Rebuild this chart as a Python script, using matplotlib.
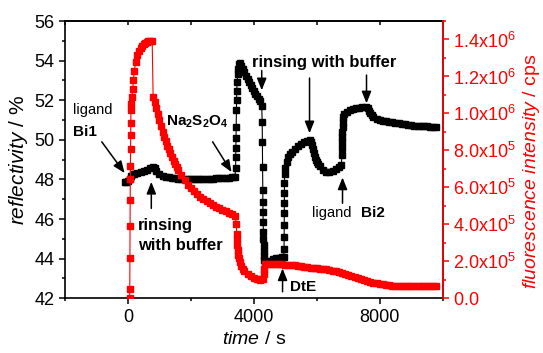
import matplotlib
matplotlib.use("Agg")
import matplotlib.pyplot as plt
from matplotlib.ticker import MultipleLocator, FuncFormatter

plt.rcParams["font.family"] = ["Liberation Sans", "DejaVu Sans"]
plt.rcParams["mathtext.fontset"] = "custom"
plt.rcParams["mathtext.rm"] = "Liberation Sans"
plt.rcParams["mathtext.it"] = "Liberation Sans:italic"
plt.rcParams["mathtext.bf"] = "Liberation Sans:bold"

# reflectivity (left axis, %) vs time (s)
t_refl = [-100, -50, 0, 50, 100, 150, 200, 300, 400, 500,
          600, 700, 800, 850, 900, 1000, 1100, 1200, 1300, 1400,
          1500, 1600, 1700, 1800, 1900, 2000, 2100, 2200, 2300, 2400,
          2500, 2600, 2700, 2800, 2900, 3000, 3100, 3200, 3300, 3400,
          3420, 3425, 3430, 3435, 3440, 3445, 3450, 3455, 3470, 3485,
          3500, 3520, 3550, 3600, 3650, 3700, 3750, 3800, 3850, 3900,
          3950, 4000, 4050, 4100, 4150, 4200, 4250, 4265, 4270, 4275,
          4280, 4285, 4290, 4295, 4300, 4305, 4310, 4315, 4320, 4330,
          4350, 4400, 4500, 4600, 4700, 4800, 4900, 4950, 4960, 4962,
          4964, 4966, 4968, 4970, 4972, 4975, 5000, 5050, 5100, 5150,
          5200, 5300, 5400, 5500, 5600, 5700, 5780, 5820, 5850, 5880,
          5910, 5940, 5970, 6000, 6050, 6100, 6200, 6300, 6400, 6500,
          6600, 6700, 6780, 6800, 6805, 6808, 6812, 6816, 6820, 6824,
          6830, 6850, 6950, 7050, 7150, 7250, 7350, 7450, 7550, 7620,
          7660, 7700, 7750, 7800, 7900, 8000, 8100, 8200, 8300, 8400,
          8500, 8600, 8700, 8800, 8900, 9000, 9100, 9200, 9300, 9400,
          9500, 9600, 9700, 9800]
refl = [47.85, 47.85, 47.9, 48.0, 48.15, 48.25, 48.3, 48.35, 48.4, 48.45,
        48.5, 48.6, 48.65, 48.6, 48.45, 48.25, 48.15, 48.1, 48.1, 48.05,
        48.05, 48.0, 48.0, 48.0, 48.0, 48.0, 48.0, 48.0, 48.0, 48.0,
        48.0, 48.0, 48.0, 48.05, 48.05, 48.05, 48.05, 48.05, 48.1, 48.1,
        48.6, 49.15, 49.6, 50.1, 50.65, 51.5, 52.0, 52.45, 52.9, 53.3,
        53.6, 53.85, 53.9, 53.75, 53.6, 53.4, 53.22, 53.05, 52.9, 52.75,
        52.6, 52.45, 52.32, 52.2, 52.08, 51.95, 51.7, 50.9, 49.9, 48.65,
        47.45, 46.85, 46.35, 45.85, 45.35, 45.0, 44.7, 44.4, 44.15, 43.95,
        43.85, 43.85, 43.9, 44.0, 44.05, 44.05, 44.1, 44.1, 44.5, 45.1,
        45.7, 46.3, 46.8, 47.3, 47.8, 48.3, 48.6, 48.9, 49.15, 49.3,
        49.4, 49.55, 49.7, 49.8, 49.9, 49.95, 50.0, 49.9, 49.75, 49.55,
        49.35, 49.15, 49.0, 48.9, 48.8, 48.7, 48.5, 48.4, 48.4, 48.45,
        48.55, 48.65, 48.75, 49.25, 49.6, 49.9, 50.15, 50.4, 50.65, 50.9,
        51.15, 51.3, 51.42, 51.5, 51.55, 51.6, 51.62, 51.65, 51.68, 51.6,
        51.48, 51.35, 51.25, 51.15, 51.05, 51.0, 50.97, 50.93, 50.9, 50.88,
        50.85, 50.83, 50.8, 50.78, 50.75, 50.73, 50.72, 50.7, 50.7, 50.68,
        50.68, 50.67, 50.67, 50.67]

# fluorescence intensity (right axis, units of 1e5 cps) vs time (s)
t_fluo = [54, 58, 62, 66, 70, 74, 78, 82, 86, 90,
          95, 110, 130, 150, 175, 200, 250, 300, 350, 400,
          450, 500, 550, 600, 650, 700, 770, 800, 850, 900,
          950, 1000, 1050, 1100, 1150, 1200, 1250, 1300, 1350, 1400,
          1450, 1500, 1550, 1600, 1700, 1800, 1900, 2000, 2100, 2200,
          2300, 2400, 2500, 2600, 2700, 2800, 2900, 3000, 3100, 3200,
          3300, 3400, 3445, 3455, 3465, 3475, 3490, 3505, 3520, 3550,
          3600, 3650, 3700, 3800, 3900, 4000, 4100, 4200, 4280, 4320,
          4335, 4350, 4400, 4500, 4600, 4700, 4800, 4900, 5000, 5100,
          5200, 5300, 5400, 5500, 5600, 5700, 5800, 5900, 6000, 6100,
          6200, 6300, 6400, 6500, 6600, 6700, 6800, 6900, 7000, 7100,
          7200, 7300, 7400, 7500, 7600, 7700, 7800, 7900, 8000, 8100,
          8200, 8300, 8400, 8500, 8600, 8700, 8800, 8900, 9000, 9100,
          9200, 9300, 9400, 9500, 9600, 9700, 9800]
fluo = [0.0, 0.5, 2.2, 3.9, 5.3, 6.45, 7.15, 8.1, 8.85, 9.5,
        10.2, 10.5, 10.9, 11.3, 11.8, 12.3, 12.8, 13.15, 13.4, 13.55,
        13.65, 13.75, 13.8, 13.85, 13.9, 13.9, 13.9, 10.9, 10.6, 10.3,
        9.95, 9.65, 9.3, 9.0, 8.75, 8.5, 8.25, 8.05, 7.85, 7.65,
        7.45, 7.25, 7.1, 6.95, 6.65, 6.4, 6.15, 5.95, 5.8, 5.65,
        5.5, 5.38, 5.27, 5.16, 5.05, 4.96, 4.88, 4.8, 4.72, 4.63,
        4.55, 4.45, 4.0, 3.5, 3.2, 2.9, 2.6, 2.35, 2.2, 1.95,
        1.75, 1.6, 1.45, 1.3, 1.18, 1.1, 1.03, 1.0, 1.02, 1.3,
        1.6, 1.85, 1.88, 1.88, 1.88, 1.87, 1.85, 1.84, 1.82, 1.81,
        1.8, 1.78, 1.75, 1.72, 1.7, 1.68, 1.66, 1.64, 1.62, 1.6,
        1.58, 1.56, 1.53, 1.5, 1.48, 1.44, 1.38, 1.32, 1.25, 1.2,
        1.15, 1.08, 1.02, 0.98, 0.95, 0.9, 0.85, 0.81, 0.78, 0.75,
        0.72, 0.7, 0.68, 0.67, 0.67, 0.67, 0.67, 0.67, 0.67, 0.67,
        0.67, 0.67, 0.67, 0.67, 0.67, 0.67, 0.67]
fluo_cps = [v * 1e5 for v in fluo]

RED = "#ff0000"


def sci_fmt(v, pos):
    if v == 0:
        return r"$\mathregular{0.0}$"
    exp = 6 if v >= 1e6 else 5
    return r"$\mathregular{%.1fx10^{%d}}$" % (v / 10 ** exp, exp)


fig = plt.figure(figsize=(5.43, 3.53), dpi=100)
ax = fig.add_axes([0.1197, 0.155, 0.6956, 0.7855])

ax.plot(t_refl, refl, color="k", marker="s", ms=5, lw=0.8, zorder=2)
ax.set_xlim(-2000, 10000)
ax.set_ylim(42, 56)
ax.xaxis.set_major_locator(MultipleLocator(4000))
ax.xaxis.set_minor_locator(MultipleLocator(2000))
ax.yaxis.set_major_locator(MultipleLocator(2))
ax.yaxis.set_minor_locator(MultipleLocator(1))
ax.tick_params(which="major", direction="out", length=4, width=1.1, labelsize=13)
ax.tick_params(which="minor", direction="out", length=2.5, width=1.1)
for s in ax.spines.values():
    s.set_linewidth(1.2)
ax.set_xlabel(r"$\mathit{time}$ / s", fontsize=14, labelpad=4)
ax.set_ylabel(r"$\mathit{reflectivity}$ / %", fontsize=15, labelpad=3)

top = ax.secondary_xaxis("top")
top.xaxis.set_major_locator(MultipleLocator(2000))
top.tick_params(direction="in", length=3, width=1.1, labeltop=False)
top.spines["top"].set_linewidth(1.2)

ax2 = ax.twinx()
ax2.plot(t_fluo, fluo_cps, color=RED, marker="s", ms=5, lw=0.8, zorder=2)
ax2.set_ylim(0, 1.5e6)
ax2.yaxis.set_major_locator(MultipleLocator(2e5))
ax2.yaxis.set_minor_locator(MultipleLocator(1e5))
ax2.yaxis.set_major_formatter(FuncFormatter(sci_fmt))
ax2.tick_params(axis="y", which="major", direction="out", length=4, width=1.1,
                colors=RED, labelsize=13)
ax2.tick_params(axis="y", which="minor", direction="out", length=2.5, width=1.1,
                colors=RED)
ax2.spines["right"].set_color(RED)
ax2.spines["right"].set_linewidth(1.2)
for side in ("left", "top", "bottom"):
    ax2.spines[side].set_visible(False)
ax2.set_ylabel(r"$\mathit{fluorescence\ intensity}$ / cps", fontsize=14,
               color=RED, labelpad=4)
ax2.yaxis.label.set_y(0.459)

arrow = dict(arrowstyle="-|>,head_length=0.6,head_width=0.24", color="k",
             lw=1.1, shrinkA=0, shrinkB=0, mutation_scale=12)


def note(tip, tail):
    ax.annotate("", xy=tip, xytext=tail, arrowprops=arrow, zorder=5)


ax.text(-1756, 51.5, "ligand", fontsize=10.5, ha="left", va="center")
ax.text(-1756, 50.39, "Bi1", fontsize=11, fontweight="bold", ha="left", va="center")
note((-105, 48.32), (-832, 49.9))

ax.text(1197, 50.92, r"$\mathbf{Na_2S_2O_4}$", fontsize=11, ha="left", va="center")
note((3292, 48.37), (2690, 49.9))

ax.text(3927, 53.9, "rinsing with buffer", fontsize=12, fontweight="bold",
        ha="left", va="center")
note((4250, 52.5), (4250, 53.5))
note((5769, 50.33), (5769, 53.12))
note((7579, 51.84), (7579, 53.27))

ax.text(308, 45.7, "rinsing", fontsize=12, fontweight="bold", ha="left", va="center")
ax.text(308, 44.69, "with buffer", fontsize=12, fontweight="bold", ha="left", va="center")
note((742, 47.88), (742, 46.54))

ax.text(5833, 46.3, "ligand", fontsize=10.5, ha="left", va="center")
ax.text(7389, 46.3, "Bi2", fontsize=11, fontweight="bold", ha="left", va="center")
note((6817, 48.1), (6817, 46.8))

ax.text(5134, 42.58, "DtE", fontsize=11, fontweight="bold", ha="left", va="center")
note((4912, 43.51), (4912, 42.33))

fig.savefig("out.png", dpi=100)
